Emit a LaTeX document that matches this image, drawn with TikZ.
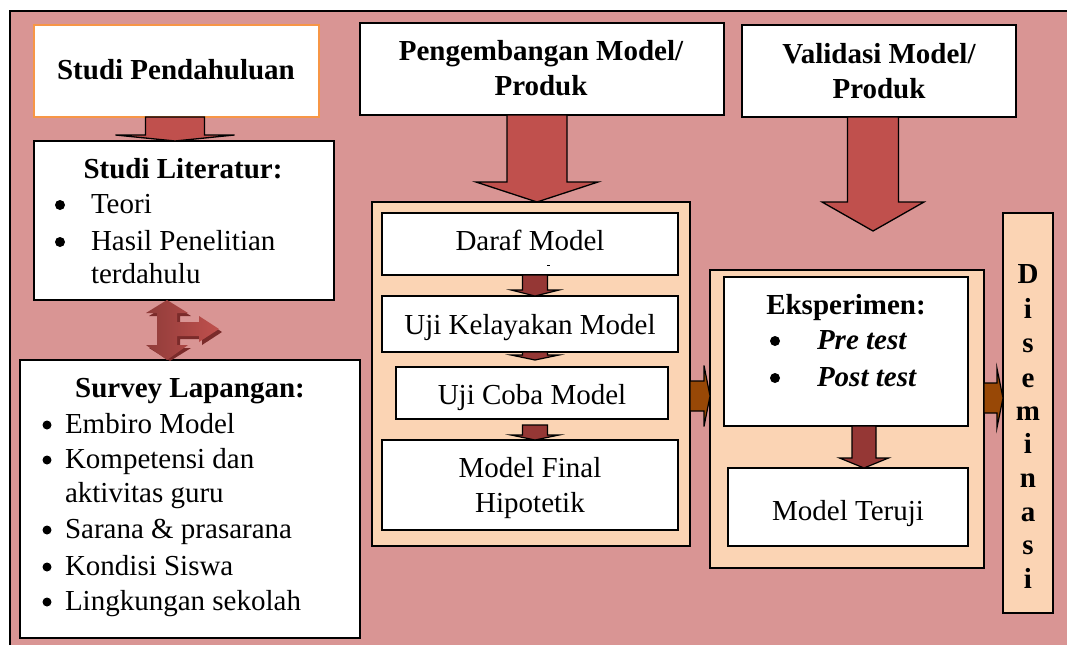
\documentclass[tikz,border=0pt]{standalone}
\usepackage{fontspec}
\setmainfont{Liberation Serif}
\usetikzlibrary{calc}
\definecolor{bgpink}{HTML}{D99594}
\definecolor{redarr}{HTML}{C0504D}
\definecolor{darkred}{HTML}{953735}
\definecolor{peach}{HTML}{FBD4B4}
\definecolor{brownarr}{HTML}{984806}
\definecolor{orangeline}{HTML}{F79646}
\definecolor{shadowred}{HTML}{7A2B2A}

% box from (x1,y1) to (x2,y2)
\newcommand{\bx}[6]{\node[#6, minimum width={(#4-#2)*1pt}, minimum height={(#5-#3)*1pt}] (#1) at ({(#2+#4)/2},{(#3+#5)/2}) {};}
% downward block arrow: start, end, x, half shaft, half head, head length, style
\newcommand{\arrdn}[7]{%
  \coordinate (bs) at (#1 -| #3,0);
  \coordinate (bt) at (#2 -| #3,0);
  \filldraw[#7] ([xshift=-#4pt]bs) -- ([xshift=#4pt]bs) -- ([xshift=#4pt,yshift=#6pt]bt) -- ([xshift=#5pt,yshift=#6pt]bt) -- (bt) -- ([xshift=-#5pt,yshift=#6pt]bt) -- ([xshift=-#4pt,yshift=#6pt]bt) -- cycle;}
% rightward block arrow: start, end, y, half shaft, half head, head length, style
\newcommand{\arrrt}[7]{%
  \coordinate (bs) at (#1 |- 0,#3);
  \coordinate (bt) at (#2 |- 0,#3);
  \filldraw[#7] ([yshift=#4pt]bs) -- ([xshift=-#6pt,yshift=#4pt]bt) -- ([xshift=-#6pt,yshift=#5pt]bt) -- (bt) -- ([xshift=-#6pt,yshift=-#5pt]bt) -- ([xshift=-#6pt,yshift=-#4pt]bt) -- ([yshift=-#4pt]bs) -- cycle;}

\tikzset{
  box/.style={draw=black, fill=white, line width=1.5pt, inner sep=0pt, outer sep=0pt},
  peachbox/.style={box, fill=peach},
  orbox/.style={box, draw=orangeline, line width=1.2pt},
  txt/.style={inner sep=0pt, outer sep=0pt, anchor=base, font=\fontsize{29}{35}\selectfont},
  ltxt/.style={txt, anchor=base west},
  btxt/.style={txt, font=\fontsize{29}{35}\selectfont\bfseries},
  bul/.style={circle, fill=black, inner sep=0pt, minimum size=10pt},
  sbul/.style={bul, minimum size=9pt},
  bigarr/.style={fill=redarr, draw=black, line width=1.3pt, line join=miter},
  smallarr/.style={fill=darkred, draw=black, line width=1.2pt, line join=miter},
  brownar/.style={fill=brownarr, draw=black, line width=1.2pt, line join=miter},
}

\begin{document}
\begin{tikzpicture}[x=1pt,y=-1pt]
\useasboundingbox (0,0) rectangle (1067,645);
\fill[bgpink] (10,11) rectangle (1067,645);
\draw[line width=1.5pt] (10,645) -- (10,11) -- (1067,11);

% containers
\bx{cont1}{372}{202}{690}{546}{peachbox}
\bx{cont2}{710}{270}{984}{568}{peachbox}
\bx{dis}{1003}{213}{1053}{613}{peachbox}

% boxes
\bx{pend}{34}{25}{319}{117}{orbox}
\bx{lit}{34}{141}{334}{300}{box}
\bx{sur}{20}{360}{360}{638}{box}
\bx{peng}{360}{23}{724}{115}{box}
\bx{vali}{742}{25}{1016}{117}{box}
\bx{daraf}{382}{213}{678}{275}{box}
\bx{kel}{382}{296}{678}{352}{box}
\bx{coba}{396}{367}{668}{419}{box}
\bx{final}{382}{440}{678}{530}{box}
\bx{eks}{724}{277}{968}{426}{box}
\bx{teruji}{728}{468}{968}{546}{box}

% big arrows
\arrdn{pend.south}{lit.north}{175}{29.5}{59.5}{6}{bigarr}
\arrdn{peng.south}{cont1.north}{537}{30}{61}{20}{bigarr}
\coordinate (vtip) at (873,231);
\arrdn{vali.south}{vtip}{873}{25.5}{51}{29}{bigarr}

% small arrows
\coordinate (k2) at ([yshift=7pt]coba.north);
\coordinate (s3) at ([yshift=-6pt]coba.south);
\arrdn{daraf.south}{kel.north}{535}{12.5}{24}{6}{smallarr}
\arrdn{kel.south}{k2}{535}{12.5}{24}{5}{smallarr}
\arrdn{s3}{final.north}{535}{12.5}{24}{5}{smallarr}
\arrdn{eks.south}{teruji.north}{864}{12}{24.5}{10}{smallarr}
\draw[line width=0.8pt] (547,265) -- (550,265);

% brown arrows
\arrrt{cont1.east}{cont2.west}{396}{15}{30.5}{6}{brownar}
\arrrt{cont2.east}{dis.west}{398}{15}{29.5}{6}{brownar}

% triple arrow between Studi Literatur and Survey Lapangan
\coordinate (ta) at (lit.south -| 167,0);
\fill[shadowred] ($(ta)+(3,3)$) -- ($(ta)+(-18,16)$) -- ($(ta)+(-7,16)$) -- ($(ta)+(-7,48)$) -- ($(ta)+(-18,48)$) -- ($(ta)+(3,61)$) -- ($(ta)+(24,48)$) -- ($(ta)+(13,48)$) -- ($(ta)+(13,39)$) -- ($(ta)+(35,39)$) -- ($(ta)+(35,45)$) -- ($(ta)+(55,32)$) -- ($(ta)+(35,19)$) -- ($(ta)+(35,25)$) -- ($(ta)+(13,25)$) -- ($(ta)+(13,16)$) -- ($(ta)+(24,16)$) -- cycle;
\shade[left color=redarr!75!black, right color=redarr, shading angle=90] (ta) -- ($(ta)+(-21,13)$) -- ($(ta)+(-10,13)$) -- ($(ta)+(-10,45)$) -- ($(ta)+(-21,45)$) -- (sur.north -| 167,0) -- ($(ta)+(21,45)$) -- ($(ta)+(10,45)$) -- ($(ta)+(10,36)$) -- ($(ta)+(32,36)$) -- ($(ta)+(32,42)$) -- ($(ta)+(52,29)$) -- ($(ta)+(32,16)$) -- ($(ta)+(32,22)$) -- ($(ta)+(10,22)$) -- ($(ta)+(10,13)$) -- ($(ta)+(21,13)$) -- cycle;

% texts
\node[btxt] (tpend) at (176,79) {Studi Pendahuluan};
\node[btxt] (tlit) at (183,178) {Studi Literatur:};
\node[bul] (bl1) at (60,205) {};
\node[ltxt] (tl1) at (91,213) {Teori};
\node[bul] (bl2) at (60,242) {};
\node[ltxt] (tl2) at (91,250) {Hasil Penelitian};
\node[ltxt] (tl3) at (91,283) {terdahulu};

\node[btxt] (tsur) at (190,397) {Survey Lapangan:};
\node[sbul] (bs1) at (47,425) {};
\node[ltxt] (ts1) at (65,433) {Embiro Model};
\node[sbul] (bs2) at (47,460) {};
\node[ltxt] (ts2) at (65,468) {Kompetensi dan};
\node[ltxt] (ts3) at (65,502) {aktivitas guru};
\node[sbul] (bs4) at (47,530) {};
\node[ltxt] (ts4) at (65,538) {Sarana \& prasarana};
\node[sbul] (bs5) at (47,567) {};
\node[ltxt] (ts5) at (65,575) {Kondisi Siswa};
\node[sbul] (bs6) at (47,602) {};
\node[ltxt] (ts6) at (65,610) {Lingkungan sekolah};

\node[btxt] (tpeng1) at (541,60) {Pengembangan Model/};
\node[btxt] (tpeng2) at (541,95) {Produk};
\node[btxt] (tval1) at (879,63) {Validasi Model/};
\node[btxt] (tval2) at (879,98) {Produk};

\node[txt] (tdaraf) at (530,250) {Daraf Model};
\node[txt] (tkel) at (530,334) {Uji Kelayakan Model};
\node[txt] (tcoba) at (532,404) {Uji Coba Model};
\node[txt] (tfin1) at (530,477) {Model Final};
\node[txt] (tfin2) at (530,512) {Hipotetik};

\node[btxt] (teks) at (846,314) {Eksperimen:};
\node[bul] (be1) at (775,341) {};
\node[ltxt, font=\fontsize{29}{35}\selectfont\bfseries\itshape] (te1) at (817,349) {Pre test};
\node[bul] (be2) at (775,378) {};
\node[ltxt, font=\fontsize{29}{35}\selectfont\bfseries\itshape] (te2) at (817,386) {Post test};
\node[txt] (tter) at (848,520) {Model Teruji};

\foreach \l/\yy [count=\i] in {D/283,i/318,s/352,e/387,m/420,i/453,n/487,a/521,s/554,i/588}
  \node[btxt] (dl\i) at (1028,\yy) {\l};
\end{tikzpicture}
\end{document}
